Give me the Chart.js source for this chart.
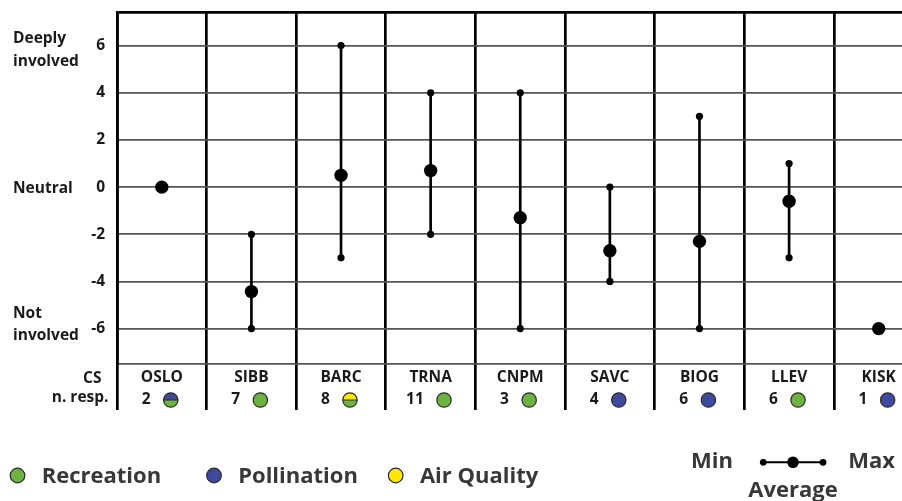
<!DOCTYPE html>
<html><head><meta charset="utf-8">
<script src="https://cdn.jsdelivr.net/npm/chart.js@4.4.1/dist/chart.umd.min.js"></script>
<style>
html,body{margin:0;padding:0;background:#fff;overflow:hidden}
#wrap{position:relative;width:902px;height:501px}
</style>
</head><body>
<div id="wrap"><canvas id="c"></canvas></div>
<script>
// ---- data ----
const caseStudies = ['OSLO','SIBB','BARC','TRNA','CNPM','SAVC','BIOG','LLEV','KISK'];
const respondents = [2, 7, 8, 11, 3, 4, 6, 6, 1];
const ecosystemServices = [
  ['Pollination','Recreation'], ['Recreation'], ['Air Quality','Recreation'],
  ['Recreation'], ['Recreation'], ['Pollination'], ['Pollination'],
  ['Recreation'], ['Pollination']
];
const averageValues = [0, -4.43, 0.5, 0.7, -1.3, -2.7, -2.3, -0.6, -6];
const minValues = [null, -6, -3, -2, -6, -4, -6, -3, null];
const maxValues = [null, -2, 6, 4, 4, 0, 3, 1, null];
const yTickValues = [-6, -4, -2, 0, 2, 4, 6];
const involvementLabels = [
  {value: 6, lines: ['Deeply', 'involved']},
  {value: 0, lines: ['Neutral']},
  {value: -6, lines: ['Not', 'involved']}
];
const rowHeaders = ['CS', 'n. resp.'];
const serviceLegend = ['Recreation', 'Pollination', 'Air Quality'];
const rangeLegend = ['Min', 'Max', 'Average'];

// ---- styling ----
const FONT = '"Open Sans", "DejaVu Sans", sans-serif';
const SERVICE_COLORS = {'Recreation': '#6cb33f', 'Pollination': '#3d4a9e', 'Air Quality': '#ffe600'};
const Y_MIN = -7.5, Y_MAX = 7.4;

function drawMarker(ctx, x, y, r, cols) {
  ctx.save();
  if (cols.length === 1) {
    ctx.beginPath(); ctx.arc(x, y, r, 0, 2 * Math.PI);
    ctx.fillStyle = SERVICE_COLORS[cols[0]]; ctx.fill();
  } else {
    ctx.beginPath(); ctx.arc(x, y, r, Math.PI, 2 * Math.PI); ctx.closePath();
    ctx.fillStyle = SERVICE_COLORS[cols[0]]; ctx.fill();
    ctx.beginPath(); ctx.arc(x, y, r, 0, Math.PI); ctx.closePath();
    ctx.fillStyle = SERVICE_COLORS[cols[1]]; ctx.fill();
    ctx.beginPath(); ctx.moveTo(x - r, y); ctx.lineTo(x + r, y);
    ctx.strokeStyle = '#2a2a2a'; ctx.lineWidth = 1; ctx.stroke();
  }
  ctx.beginPath(); ctx.arc(x, y, r, 0, 2 * Math.PI);
  ctx.strokeStyle = '#2a2a2a'; ctx.lineWidth = 1.2; ctx.stroke();
  ctx.restore();
}

const annotations = {
  id: 'annotations',
  afterDraw(chart) {
    const ctx = chart.ctx, xs = chart.scales.x, ys = chart.scales.y;
    ctx.save();
    ctx.fillStyle = '#1a1a1a';
    ctx.font = 'bold 15.5px ' + FONT;
    ctx.textAlign = 'left'; ctx.textBaseline = 'alphabetic';
    const nudge = {'6': 3.5, '0': 0, '-6': -5};
    involvementLabels.forEach(l => {
      const py = ys.getPixelForValue(l.value);
      const n = l.lines.length, gap = 22.7;
      l.lines.forEach((t, k) => {
        ctx.fillText(t, 13, py + (k - (n - 1) / 2) * gap + 5.5 + (nudge[String(l.value)] || 0));
      });
    });
    ctx.textAlign = 'right';
    ctx.fillText(rowHeaders[0], 101.5, 382.5);
    ctx.fillText(rowHeaders[1], 108.5, 401.5);
    ctx.textAlign = 'left';
    caseStudies.forEach((_, i) => {
      const cx = xs.getPixelForValue(i);
      const t = String(respondents[i]);
      const w = ctx.measureText(t).width;
      const r = 7.2, gap = 13, total = w + gap + 2 * r;
      const start = cx - total / 2 - 2;
      ctx.fillText(t, start, 403.5);
      drawMarker(ctx, start + w + gap + r, 400, r, ecosystemServices[i]);
    });
    ctx.font = 'bold 22px ' + FONT;
    const lx = [17.5, 214, 395.7];
    serviceLegend.forEach((s, i) => {
      drawMarker(ctx, lx[i], 475.5, 7.3, [s]);
      ctx.fillStyle = '#383838';
      ctx.fillText(s, lx[i] + 24.2, 483.3);
    });
    ctx.fillStyle = '#383838';
    ctx.fillText(rangeLegend[0], 691, 468.3);
    ctx.fillText(rangeLegend[1], 848.3, 468.3);
    ctx.textAlign = 'center';
    ctx.fillText(rangeLegend[2], 793, 496.7);
    ctx.beginPath(); ctx.moveTo(763.3, 462.3); ctx.lineTo(823, 462.3);
    ctx.strokeStyle = '#000'; ctx.lineWidth = 2; ctx.stroke();
    ctx.fillStyle = '#000';
    [[763.3, 3.4], [823, 3.4], [793, 5.8]].forEach(([x, r]) => {
      ctx.beginPath(); ctx.arc(x, 462.3, r, 0, 2 * Math.PI); ctx.fill();
    });
    ctx.restore();
  }
};

const rangeData = [];
const extremeData = [];
caseStudies.forEach((_, i) => {
  if (minValues[i] !== null && maxValues[i] !== null) {
    rangeData.push({x: i, y: [minValues[i], maxValues[i]]});
    extremeData.push({x: i, y: minValues[i]});
    extremeData.push({x: i, y: maxValues[i]});
  }
});
const averageData = averageValues.map((v, i) => ({x: i, y: v}));

new Chart(document.getElementById('c'), {
  type: 'scatter',
  data: {
    datasets: [
      {type: 'bar', label: 'Range', data: rangeData, backgroundColor: '#000', barThickness: 2, order: 3},
      {label: 'Min/Max', data: extremeData, pointRadius: 3.6, pointBackgroundColor: '#000', pointBorderWidth: 0, order: 2},
      {label: 'Average', data: averageData, pointRadius: 6.7, pointBackgroundColor: '#000', pointBorderWidth: 0, order: 1}
    ]
  },
  options: {
    responsive: true,
    maintainAspectRatio: false,
    animation: false,
    layout: {autoPadding: false, padding: {top: 9.3, left: 0, right: 0, bottom: 0}},
    plugins: {legend: {display: false}, tooltip: {enabled: false}},
    scales: {
      x: {
        type: 'linear', min: -0.5, max: 8.26, offset: false,
        afterBuildTicks: s => { s.ticks = caseStudies.map((_, i) => ({value: i})); },
        afterFit: s => { s.height = 137; },
        grid: {offset: true, color: '#000', lineWidth: 2.7, tickLength: 46, drawOnChartArea: true},
        border: {display: false},
        ticks: {
          autoSkip: false, maxRotation: 0, padding: -42,
          color: '#1a1a1a', font: {family: FONT, size: 15.5, weight: 'bold'},
          callback: (v, i) => caseStudies[i]
        }
      },
      y: {
        type: 'linear', min: Y_MIN, max: Y_MAX,
        afterBuildTicks: s => { s.ticks = [Y_MIN, ...yTickValues, Y_MAX].map(v => ({value: v})); },
        afterFit: s => { s.width = 117; },
        grid: {
          drawTicks: false,
          color: c => (c.tick && c.tick.value === Y_MAX) ? '#000' : '#555',
          lineWidth: c => (c.tick && c.tick.value === Y_MAX) ? 2.7 : 1.7
        },
        border: {display: true, color: '#000', width: 2.7},
        ticks: {
          padding: 12, color: '#1a1a1a',
          font: c => ({family: FONT, weight: 'bold', size: (c.tick && (c.tick.value === Y_MAX || c.tick.value === Y_MIN)) ? 1 : 15.5, lineHeight: 1.2}),
          callback: v => yTickValues.includes(v) ? String(v) : ''
        }
      }
    }
  },
  plugins: [annotations]
});
</script>
</body></html>
